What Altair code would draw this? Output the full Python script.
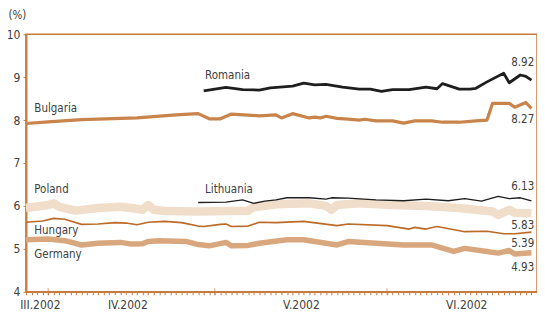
import altair as alt
import pandas as pd

# ---------------- data ----------------
MONTHS_ROMAN = ["I", "II", "III", "IV", "V", "VI", "VII", "VIII", "IX", "X", "XI", "XII"]
Y_TICKS = [4, 5, 6, 7, 8, 9, 10]
MONTH_STARTS = ["2002-04-01", "2002-05-01", "2002-06-01"]

bulgaria_dates = ["03-28", "04-01", "04-07", "04-17", "04-24", "04-28", "04-30", "05-02", "05-04",
                  "05-09", "05-12", "05-13", "05-15", "05-18", "05-19", "05-20", "05-21", "05-23",
                  "05-25", "05-27", "05-28", "05-30", "06-02", "06-04", "06-06", "06-09", "06-11",
                  "06-14", "06-17", "06-19", "06-20", "06-23", "06-24", "06-26", "06-27"]
bulgaria_values = [7.92, 7.96, 8.01, 8.05, 8.12, 8.15, 8.03, 8.03, 8.14,
                   8.10, 8.12, 8.05, 8.15, 8.05, 8.07, 8.05, 8.09, 8.04,
                   8.02, 8.00, 8.02, 7.98, 7.98, 7.93, 7.98, 7.98, 7.95,
                   7.95, 7.98, 8.00, 8.39, 8.39, 8.30, 8.41, 8.27]

romania_dates = ["04-29", "05-03", "05-06", "05-09", "05-11", "05-15", "05-17", "05-19", "05-21",
                 "05-24", "05-27", "05-29", "05-31", "06-02", "06-05", "06-08", "06-10", "06-11",
                 "06-14", "06-16", "06-17", "06-19", "06-22", "06-23", "06-25", "06-26", "06-27"]
romania_values = [8.68, 8.76, 8.71, 8.70, 8.75, 8.79, 8.86, 8.82, 8.83,
                  8.77, 8.72, 8.72, 8.67, 8.71, 8.71, 8.77, 8.73, 8.85,
                  8.72, 8.72, 8.74, 8.89, 9.09, 8.87, 9.05, 9.02, 8.93]

lithuania_dates = ["04-28", "05-03", "05-06", "05-08", "05-10", "05-12", "05-14", "05-18", "05-21",
                   "05-22", "05-25", "05-30", "06-04", "06-08", "06-12", "06-15", "06-18", "06-21",
                   "06-23", "06-25", "06-27"]
lithuania_values = [6.08, 6.09, 6.14, 6.06, 6.11, 6.14, 6.19, 6.19, 6.16,
                    6.19, 6.18, 6.14, 6.12, 6.16, 6.12, 6.17, 6.11, 6.22,
                    6.17, 6.19, 6.12]

poland_dates = ["03-28", "04-01", "04-02", "04-03", "04-06", "04-10", "04-14", "04-16", "04-18",
                "04-19", "04-20", "04-22", "04-28", "05-07", "05-08", "05-12", "05-18", "05-21",
                "05-22", "05-23", "05-27", "06-02", "06-08", "06-14", "06-17", "06-20", "06-21",
                "06-23", "06-24", "06-27"]
poland_values = [5.95, 6.02, 6.06, 5.98, 5.89, 5.95, 5.98, 5.95, 5.91,
                 6.02, 5.91, 5.88, 5.87, 5.89, 5.97, 6.04, 6.06, 6.00,
                 5.91, 6.02, 6.06, 6.02, 6.00, 5.95, 5.91, 5.87, 5.79,
                 5.91, 5.84, 5.83]

hungary_dates = ["03-28", "03-31", "04-02", "04-04", "04-07", "04-10", "04-13", "04-15", "04-17",
                 "04-19", "04-22", "04-25", "04-28", "04-29", "05-02", "05-03", "05-04", "05-07",
                 "05-09", "05-12", "05-17", "05-23", "05-25", "06-01", "06-05", "06-06", "06-08",
                 "06-10", "06-15", "06-19", "06-22", "06-24", "06-27"]
hungary_values = [5.62, 5.65, 5.71, 5.69, 5.57, 5.58, 5.61, 5.60, 5.56,
                  5.62, 5.64, 5.61, 5.53, 5.52, 5.57, 5.58, 5.52, 5.53,
                  5.62, 5.61, 5.64, 5.54, 5.58, 5.54, 5.46, 5.50, 5.46,
                  5.52, 5.40, 5.41, 5.35, 5.35, 5.39]

germany_dates = ["03-28", "04-01", "04-04", "04-07", "04-10", "04-14", "04-16", "04-18", "04-19",
                 "04-21", "04-26", "04-28", "04-30", "05-03", "05-04", "05-07", "05-09", "05-14",
                 "05-17", "05-19", "05-23", "05-25", "05-30", "06-04", "06-09", "06-13", "06-15",
                 "06-19", "06-21", "06-23", "06-24", "06-27"]
germany_values = [5.21, 5.23, 5.19, 5.09, 5.13, 5.15, 5.11, 5.12, 5.17,
                  5.19, 5.17, 5.10, 5.07, 5.15, 5.07, 5.08, 5.13, 5.21,
                  5.21, 5.17, 5.09, 5.17, 5.13, 5.09, 5.09, 4.94, 5.01,
                  4.94, 4.90, 4.96, 4.88, 4.91]

name_labels = ["Romania", "Bulgaria", "Poland", "Lithuania", "Hungary", "Germany"]
name_dates = ["2002-04-29T06:00", "2002-03-29T12:00", "2002-03-29T12:00",
              "2002-04-29T06:00", "2002-03-29T12:00", "2002-03-29T12:00"]
name_values = [9.02, 8.25, 6.36, 6.36, 5.41, 4.86]

end_labels = ["8.92", "8.27", "6.13", "5.83", "5.39", "4.93"]
end_values = [9.32, 8.00, 6.45, 5.53, 5.11, 4.55]

# ---------------- styling ----------------
FONT = "DejaVu Sans Condensed"
FS = 11.5
AXIS = "#c97b3d"
TEXT = "#404040"

series = [
    ("Poland", poland_dates, poland_values, "#f0ddca", 8.5),
    ("Germany", germany_dates, germany_values, "#d9a77d", 5.5),
    ("Hungary", hungary_dates, hungary_values, "#bb6a27", 1.6),
    ("Bulgaria", bulgaria_dates, bulgaria_values, "#c8844b", 3.2),
    ("Lithuania", lithuania_dates, lithuania_values, "#1e1e1e", 1.3),
    ("Romania", romania_dates, romania_values, "#1e1e1e", 2.8),
]

# axis ticks: every day, plus hidden ticks carrying the month labels
tick_days = pd.date_range("2002-03-28", "2002-06-28", freq="D")
tick_values = [{"year": d.year, "month": d.month, "date": d.day} for d in tick_days]
label_positions = [(3, 30, 12), (4, 15, 6), (5, 16, 12), (6, 15, 6)]
tick_values += [{"year": 2002, "month": m, "date": dd, "hours": h} for m, dd, h in label_positions]

roman = "[" + ",".join("'" + r + "'" for r in MONTHS_ROMAN) + "]"

x_scale = alt.Scale(domain=[alt.DateTime(year=2002, month=3, date=28),
                            alt.DateTime(year=2002, month=6, date=28)], nice=False)
y_scale = alt.Scale(domain=[4, 10], nice=False, zero=False)

x_axis = alt.Axis(
    values=tick_values,
    labelExpr="hours(datum.value) > 0 ? " + roman + "[month(datum.value)] + '.' + year(datum.value) : ''",
    tickSize=3,
    tickOpacity={"condition": {"test": "hours(datum.value) > 0", "value": 0}, "value": 1},
    tickColor=AXIS, tickWidth=1, domainColor=AXIS, domainWidth=1.5,
    labelFont=FONT, labelFontSize=FS + 0.5, labelColor=TEXT, labelPadding=5,
    labelOverlap=False, labelFlush=False, labelBound=False, grid=False, title=None,
)
y_axis = alt.Axis(
    values=Y_TICKS, tickSize=3, tickColor=AXIS, tickWidth=1, domainColor=AXIS, domainWidth=2,
    labelFont=FONT, labelFontSize=FS + 0.5, labelColor=TEXT, labelPadding=3, grid=False,
    title="(%)", titleAngle=0, titleX=-18, titleY=-19, titleAlign="left", titleBaseline="middle",
    titleFont=FONT, titleFontSize=FS, titleFontWeight="normal", titleColor=TEXT,
)


def xenc():
    return alt.X("date:T", scale=x_scale, axis=x_axis)


def yenc():
    return alt.Y("value:Q", scale=y_scale, axis=y_axis)


layers = []
for name, dates, values, color, width in series:
    df = pd.DataFrame({"date": pd.to_datetime(["2002-" + d for d in dates]), "value": values})
    layers.append(
        alt.Chart(df).mark_line(color=color, strokeWidth=width, strokeJoin="round", strokeCap="butt")
        .encode(x=xenc(), y=yenc())
    )

# longer month-boundary ticks crossing the time axis
major_df = pd.DataFrame({"date": pd.to_datetime(MONTH_STARTS), "value": [Y_TICKS[0]] * len(MONTH_STARTS)})
layers.append(
    alt.Chart(major_df).mark_tick(orient="vertical", size=7, thickness=1, color=AXIS)
    .encode(x=xenc(), y=yenc())
)

names_df = pd.DataFrame({"label": name_labels, "date": pd.to_datetime(name_dates), "value": name_values})
layers.append(
    alt.Chart(names_df).mark_text(align="left", baseline="middle", font=FONT, fontSize=FS, color=TEXT)
    .encode(x=xenc(), y=yenc(), text="label:N")
)
ends_df = pd.DataFrame({"label": end_labels, "date": pd.to_datetime(["2002-06-27T12:00"] * len(end_labels)),
                        "value": end_values})
layers.append(
    alt.Chart(ends_df).mark_text(align="right", baseline="middle", font=FONT, fontSize=FS, color=TEXT)
    .encode(x=xenc(), y=yenc(), text="label:N")
)

chart = (
    alt.layer(*layers)
    .properties(width=512, height=258,
                padding={"left": 18, "top": 26, "right": 0, "bottom": 20},
                autosize=alt.AutoSizeParams(type="none"))
    .configure_view(stroke=AXIS, strokeWidth=1.5)
)

chart.save("out.html", embed_options={"renderer": "svg", "actions": False})
